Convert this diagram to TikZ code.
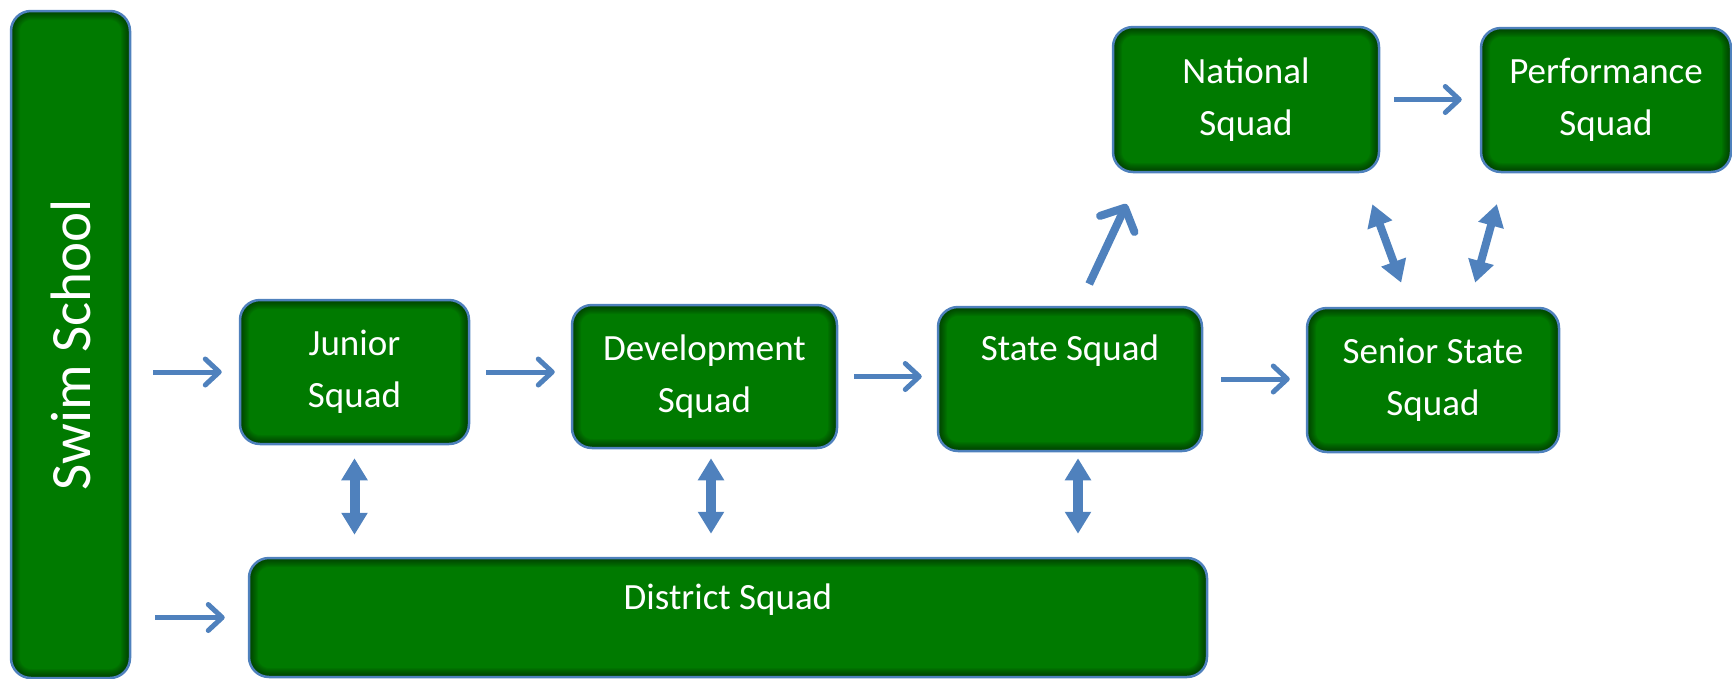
\documentclass[tikz,border=0pt]{standalone}
\usepackage{fontspec}
\setmainfont{Carlito}
\usetikzlibrary{arrows.meta,positioning}
\definecolor{squadgreen}{RGB}{0,122,0}
\definecolor{arrowblue}{RGB}{79,129,189}

\begin{document}
\begin{tikzpicture}[x=1pt,y=1pt,on grid,
    squad/.style={rectangle,rounded corners=20pt,draw=arrowblue,line width=2.5pt,
      fill=squadgreen,text=white,align=center,inner sep=0pt,
      font=\fontsize{37}{52}\selectfont,
      path picture={\foreach \w in {2,4,...,18}
        \draw[black,opacity=0.06,line width=\w pt]
          (path picture bounding box.south west) rectangle (path picture bounding box.north east);}},
    oneline/.style={align=none,text height=26pt,text depth=#1},
    flow/.style={color=arrowblue,line width=5pt,
      -{Straight Barb[length=14pt,width=26pt,line width=5pt,round]}},
    rise/.style={color=arrowblue,line width=8pt,
      -{Straight Barb[length=18pt,width=38pt,line width=8pt,round]}},
    link/.style={color=arrowblue,line width=10pt,
      {Triangle[length=22pt,width=25pt]}-{Triangle[length=22pt,width=25pt]}}]
   \useasboundingbox (0,0) rectangle (1732,-678);
   \node[squad,rotate=90,minimum width=667pt,minimum height=119pt,
     font=\fontsize{57}{68}\selectfont,oneline=0pt,text height=40pt] (swim) at (70.5,-344.5) {Swim School};
   \node[squad,minimum width=229pt,minimum height=144pt] (junior) [below right=27.5pt and 284pt of swim] {Junior\\Squad};
   \node[squad,minimum width=265pt,minimum height=143pt] (dev) [below right=4.5pt and 350pt of junior] {Development\\Squad};
   \node[squad,minimum width=264pt,minimum height=144pt,oneline=64pt] (state) [below right=2.5pt and 365.5pt of dev] {State Squad};
   \node[squad,minimum width=252pt,minimum height=144pt] (senior) [below right=1pt and 363pt of state] {Senior State\\Squad};
   \node[squad,minimum width=266pt,minimum height=145pt] (national) [above right=279.5pt and 176pt of state] {National\\Squad};
   \node[squad,minimum width=250pt,minimum height=144pt] (perf) [below right=0.5pt and 360pt of national] {Performance\\Squad};
   \node[squad,minimum width=958pt,minimum height=119pt,oneline=43pt] (district) [below right=241pt and 23.5pt of dev] {District Squad};
    \path[flow]
    (swim.south |- junior) edge[shorten <=22pt,shorten >=17pt] (junior.west)
    (swim.south |- district) edge[shorten <=24pt,shorten >=23pt] (district.west)
    (junior.east) edge[shorten <=16pt,shorten >=16pt] (junior.east -| dev.west)
    (dev.east) edge[shorten <=16pt,shorten >=15pt] (dev.east -| state.west)
    (state.east) edge[shorten <=18pt,shorten >=16pt] (state.east -| senior.west)
    (national.east) edge[shorten <=14pt,shorten >=18pt] (national.east -| perf.west);
    \path[rise]
    ([xshift=9pt]state.north) edge[shorten <=24pt,shorten >=34pt] ([xshift=-105pt]national.south);
    \path[link]
    (junior.south) edge[shorten <=13pt,shorten >=22pt] (junior.south |- district.north)
    ([xshift=6.5pt]dev.south) edge[shorten <=9pt,shorten >=23pt] ([xshift=6.5pt]dev.south |- district.north)
    ([xshift=8pt]state.south) edge[shorten <=6pt,shorten >=23pt] ([xshift=8pt]state.south |- district.north)
    ([xshift=-23pt]senior.north) edge[line width=8pt,shorten <=25.6pt,shorten >=33pt] ([xshift=115pt]national.south)
    ([xshift=35.5pt]senior.north) edge[line width=8pt,shorten <=25pt,shorten >=32pt] ([xshift=-100.6pt]perf.south);
\end{tikzpicture}
\end{document}
